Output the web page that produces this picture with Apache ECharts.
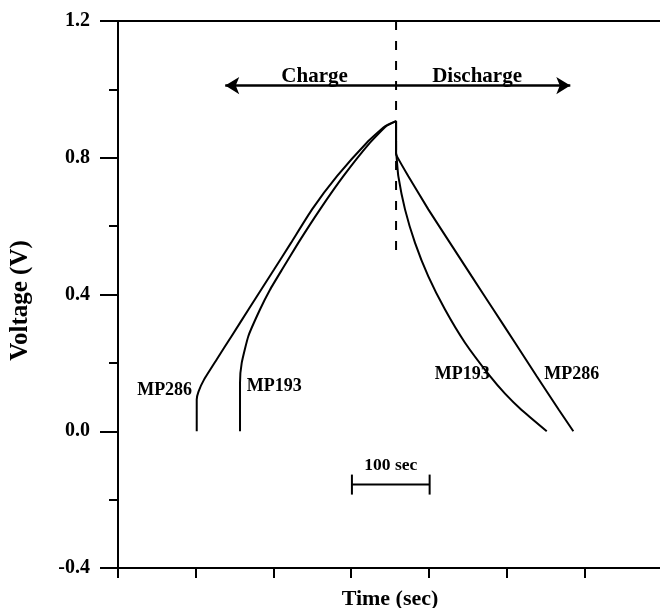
<!DOCTYPE html>
<html>
<head>
<meta charset="utf-8">
<script src="https://cdn.jsdelivr.net/npm/echarts@6/dist/echarts.min.js"></script>
<style>
  html, body { margin: 0; padding: 0; background: #fff; }
  #main { width: 660px; height: 608px; }
</style>
</head>
<body>
<div id="main"></div>
<script>
// 数据: [时间 (sec), 电压 (V)]
var mp286Charge = [[101.3, 0], [101.3, 0.093], [103.6, 0.116], [110.7, 0.151], [127, 0.21], [146.1, 0.278],
    [167.9, 0.356], [200.8, 0.473], [222.6, 0.551], [249.7, 0.649], [281.8, 0.746], [320.1, 0.844],
    [343.6, 0.892], [357.8, 0.907]];
var mp286Discharge = [[357.8, 0.907], [357.8, 0.814], [359, 0.804], [373.6, 0.746], [399.3, 0.649], [427.2, 0.551],
    [455.2, 0.453], [483, 0.356], [510.9, 0.259], [538.8, 0.161], [567.2, 0.063], [585.9, 0]];
var mp193Charge = [[157, 0], [157, 0.142], [159.2, 0.2], [167.7, 0.278], [182.7, 0.356], [195.6, 0.414],
    [211.1, 0.473], [232, 0.551], [260, 0.649], [290, 0.746], [324.3, 0.844], [345, 0.892], [357.8, 0.907]];
var mp193Discharge = [[357.8, 0.907], [357.8, 0.814], [358.4, 0.804], [360.7, 0.746], [369.3, 0.649], [382.2, 0.551],
    [399.3, 0.453], [420.8, 0.356], [446.5, 0.259], [478.7, 0.161], [498, 0.11], [519, 0.063], [551.7, 0]];

var switchLine = [[357.8, 1.2], [357.8, 0.53]];
var phaseArrow = [[138, 1.011], [582, 1.011]];
var phaseLabels = [[253, 1.037, 'Charge'], [462, 1.037, 'Discharge']];
var sampleLabels = [[60, 0.119, 'MP286'], [201, 0.13, 'MP193'], [443, 0.166, 'MP193'], [584, 0.166, 'MP286']];
var scaleBar = [[301, -0.156], [401, -0.156]];
var scaleLabel = [[351, -0.10, '100 sec']];

var font = 'Liberation Serif';

var myChart = echarts.init(document.getElementById('main'));

function textItems(list, size) {
    return list.map(function (d) {
        return { value: d, label: { fontSize: size } };
    });
}

var option = {
    backgroundColor: '#fff',
    animation: false,
    grid: {
        left: 118,
        top: 21,
        right: -2,
        bottom: 40,
        outerBoundsMode: 'none',
        show: true,
        borderColor: '#000',
        borderWidth: 2
    },
    xAxis: {
        type: 'value',
        min: 0,
        max: 700,
        interval: 100,
        name: 'Time (sec)',
        nameLocation: 'middle',
        nameGap: 20,
        nameTextStyle: { fontFamily: font, fontWeight: 'bold', fontSize: 22, color: '#000' },
        axisLine: { onZero: false, lineStyle: { color: '#000', width: 2 } },
        axisTick: { show: true, length: 10, inside: false, lineStyle: { color: '#000', width: 2 } },
        axisLabel: { show: false },
        splitLine: { show: false }
    },
    yAxis: {
        type: 'value',
        min: -0.4,
        max: 1.2,
        interval: 0.4,
        name: 'Voltage (V)',
        nameLocation: 'middle',
        nameGap: 85,
        nameRotate: 90,
        nameTextStyle: {
            fontFamily: font, fontWeight: 'bold', fontSize: 25, color: '#000',
            padding: [0, 12, 0, 0]
        },
        axisLine: { lineStyle: { color: '#000', width: 2 } },
        axisTick: { length: 18, lineStyle: { color: '#000', width: 2 } },
        minorTick: { show: true, splitNumber: 2, length: 9, lineStyle: { color: '#000', width: 2 } },
        axisLabel: {
            margin: 28,
            fontFamily: font,
            fontWeight: 'bold',
            fontSize: 20,
            color: '#000',
            formatter: function (v) { return v.toFixed(1); }
        },
        splitLine: { show: false }
    },
    series: [
        {
            name: 'MP286',
            type: 'line',
            data: mp286Charge.concat(mp286Discharge.slice(1)),
            smooth: 0.15,
            showSymbol: false,
            lineStyle: { color: '#000', width: 2 }
        },
        {
            name: 'MP193',
            type: 'line',
            data: mp193Charge.concat(mp193Discharge.slice(1)),
            smooth: 0.15,
            showSymbol: false,
            lineStyle: { color: '#000', width: 2 }
        },
        {
            type: 'line',
            data: switchLine,
            showSymbol: false,
            lineStyle: { color: '#000', width: 2, type: [9, 11] },
            markLine: {
                silent: true,
                symbol: ['arrow', 'arrow'],
                symbolSize: [13, 14],
                label: { show: false },
                lineStyle: { color: '#000', width: 2.5, type: 'solid' },
                data: [[{ coord: phaseArrow[0] }, { coord: phaseArrow[1] }]]
            }
        },
        {
            type: 'line',
            data: scaleBar,
            symbol: 'rect',
            symbolSize: [2, 20],
            showSymbol: true,
            itemStyle: { color: '#000' },
            lineStyle: { color: '#000', width: 2 }
        },
        {
            type: 'scatter',
            data: textItems(phaseLabels, 21)
                .concat(textItems(sampleLabels, 18))
                .concat(textItems(scaleLabel, 17.5)),
            symbolSize: 0,
            itemStyle: { color: '#000', opacity: 1 },
            label: {
                show: true,
                position: [0, 0],
                align: 'center',
                verticalAlign: 'middle',
                fontFamily: font,
                fontWeight: 'bold',
                color: '#000',
                opacity: 1,
                formatter: function (p) { return p.value[2]; }
            }
        }
    ]
};

myChart.setOption(option);
</script>
</body>
</html>
